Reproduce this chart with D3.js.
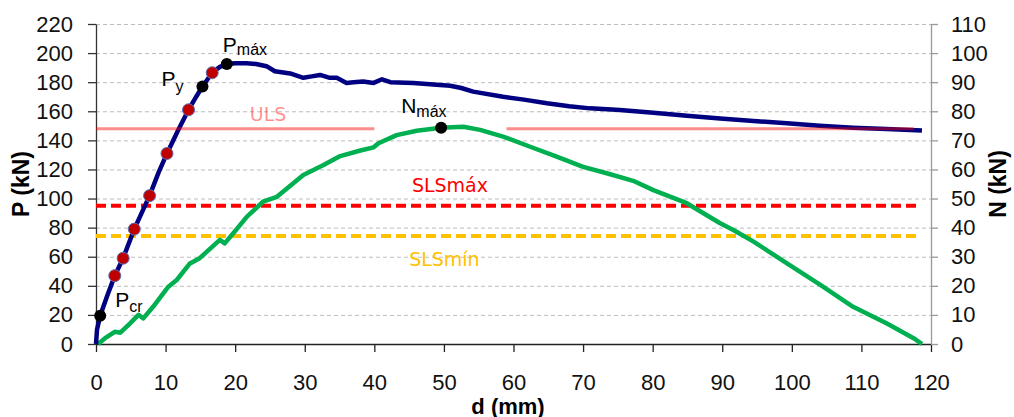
<!DOCTYPE html>
<html>
<head>
<meta charset="utf-8">
<script src="https://cdn.jsdelivr.net/npm/d3@7"></script>
<style>
  body { margin: 0; background: #fff; }
  svg { display: block; }
</style>
</head>
<body>
<script>
// load P (kN) vs displacement d (mm)
var pD   = [0, 0.15, 0.6, 1.6, 2.7, 3.9, 5.5, 7.7, 9.0, 10.2, 11.8, 13.3, 14.4, 15.3, 16.7, 17.8, 18.8, 20.0, 21.6, 23.0, 24.5, 25.7, 27.9, 29.8, 31.0, 32.2, 33.6, 34.6, 36.0, 37.0, 38.4, 39.9, 41.1, 42.3, 45.6, 48.0, 50.9, 52.5, 54.2, 58.5, 61.5, 64.8, 68.0, 71.0, 75.3, 80.1, 84.9, 89.7, 94.5, 99.3, 104.0, 108.8, 113.6, 118.7];
var pVal = [0, 10, 19.5, 33, 47, 59, 79, 102, 118, 131, 147, 161, 170, 177, 186.5, 190.5, 192.5, 193, 193, 192.5, 191, 187.5, 186, 183, 184, 185, 183, 183, 179.5, 180, 180.5, 179.5, 182, 180, 179.5, 178.5, 177.5, 176, 173.5, 170, 168, 165.5, 163.5, 162, 160.9, 159, 157, 155, 153.3, 151.7, 150.1, 148.7, 147.8, 146.8];

// axial force N (kN) vs d (mm), right axis
var nD   = [0.3, 1.3, 2.7, 3.5, 4.9, 6.1, 6.8, 8.2, 10.4, 11.6, 13.5, 14.9, 17.8, 18.5, 19.7, 21.7, 24.0, 26.0, 29.8, 32.7, 35.1, 38.0, 39.9, 40.6, 43.2, 46.1, 49.6, 52.8, 55.2, 58.5, 62.4, 66.2, 70.0, 73.4, 77.2, 80.1, 84.9, 89.7, 91.6, 94.5, 99.3, 104.1, 108.8, 113.6, 117.5, 118.7];
var nVal = [0, 2, 4.2, 3.9, 7.1, 10, 8.8, 12.8, 19.7, 22, 27.7, 29.5, 35.8, 34.6, 38, 43.8, 48.9, 50.6, 58.1, 61.5, 64.6, 66.5, 67.6, 69, 71.8, 73.3, 74.3, 74.7, 73.6, 71.3, 67.8, 64.4, 60.9, 58.7, 56.1, 52.9, 48.4, 41.5, 39.2, 35.2, 27.7, 20.3, 12.8, 7.1, 2, 0];

// red markers on the P curve
var redD = [2.7, 3.9, 5.5, 7.7, 10.2, 13.3, 16.7];
var redP = [47, 59, 79, 102, 131, 161, 186.5];

// black key points
var keyNames = ["cr", "y", "máx"];
var keyD = [0.6, 15.3, 18.8];
var keyP = [19.5, 177, 192.5];
var nMaxD = 49.6, nMaxN = 74.3;

// limit lines (P scale)
var ulsP = 148, ulsFrom = [0, 59], ulsTo = [40, 117.5];
var slsMaxP = 95, slsMinP = 74.3, slsTo = 118;

var xTicks = d3.range(0, 121, 10);
var pTicks = d3.range(0, 221, 20);
var nTicks = d3.range(0, 111, 10);

var w = 1014, h = 417;
var mLeft = 96, mRight = 931, mTop = 24, mBottom = 344;

var x = d3.scaleLinear().domain([0, 120]).range([mLeft, mRight]);
var yP = d3.scaleLinear().domain([0, 220]).range([mBottom, mTop]);
var yN = d3.scaleLinear().domain([0, 110]).range([mBottom, mTop]);

var svg = d3.select("body").append("svg")
  .attr("width", w)
  .attr("height", h);

// grid
svg.append("g").selectAll("line")
  .data(pTicks.slice(1))
  .enter().append("line")
  .attr("x1", mLeft).attr("x2", mRight)
  .attr("y1", function(d) { return yP(d) + 0.5; })
  .attr("y2", function(d) { return yP(d) + 0.5; })
  .attr("stroke", "#bdbdbd")
  .attr("stroke-dasharray", "4,3");

function styleAxis(g, col) {
  g.selectAll("path").attr("stroke", col).attr("stroke-width", 1.3);
  g.selectAll("line").attr("stroke", col).attr("stroke-width", 1.3);
  g.selectAll("text")
    .attr("font-family", "'Liberation Sans', Arial, sans-serif")
    .attr("font-size", "22px")
    .attr("fill", "#111");
}

var gx = svg.append("g").attr("transform", "translate(0," + mBottom + ")")
  .call(d3.axisBottom(x).tickValues(xTicks).tickSize(8).tickSizeOuter(0).tickPadding(22));
styleAxis(gx, "#222");

var gl = svg.append("g").attr("transform", "translate(" + mLeft + ",0)")
  .call(d3.axisLeft(yP).tickValues(pTicks).tickSize(8).tickSizeOuter(0).tickPadding(15));
styleAxis(gl, "#333");

var gr = svg.append("g").attr("transform", "translate(" + mRight + ",0)")
  .call(d3.axisRight(yN).tickValues(nTicks).tickSize(7).tickSizeOuter(0).tickPadding(13));
styleAxis(gr, "#999");

// axis titles
svg.append("text")
  .attr("x", 508).attr("y", 414)
  .attr("text-anchor", "middle")
  .attr("font-family", "'Liberation Sans', Arial, sans-serif")
  .attr("font-size", "22px").attr("font-weight", "bold")
  .text("d (mm)");
svg.append("text")
  .attr("transform", "translate(29," + (mTop + mBottom) / 2 + ") rotate(-90)")
  .attr("text-anchor", "middle")
  .attr("font-family", "'Liberation Sans', Arial, sans-serif")
  .attr("font-size", "23px").attr("font-weight", "bold")
  .text("P (kN)");
svg.append("text")
  .attr("transform", "translate(1006," + (mTop + mBottom) / 2 + ") rotate(-90)")
  .attr("text-anchor", "middle")
  .attr("font-family", "'Liberation Sans', Arial, sans-serif")
  .attr("font-size", "23px").attr("font-weight", "bold")
  .text("N (kN)");

// SLS dashed lines
svg.append("line")
  .attr("x1", x(0)).attr("x2", x(slsTo))
  .attr("y1", yP(slsMaxP)).attr("y2", yP(slsMaxP))
  .attr("stroke", "#ff0000").attr("stroke-width", 4)
  .attr("stroke-dasharray", "10,5");
svg.append("line")
  .attr("x1", x(0)).attr("x2", x(slsTo))
  .attr("y1", yP(slsMinP)).attr("y2", yP(slsMinP))
  .attr("stroke", "#ffc000").attr("stroke-width", 4)
  .attr("stroke-dasharray", "10,5");

var lineP = d3.line()
  .x(function(d, i) { return x(pD[i]); })
  .y(function(d) { return yP(d); });
var lineN = d3.line()
  .x(function(d, i) { return x(nD[i]); })
  .y(function(d) { return yN(d); });

svg.append("path").datum(nVal)
  .attr("d", lineN)
  .attr("fill", "none")
  .attr("stroke", "#00b050").attr("stroke-width", 4.5)
  .attr("stroke-linejoin", "round");

svg.append("path").datum(pVal)
  .attr("d", lineP)
  .attr("fill", "none")
  .attr("stroke", "#000080").attr("stroke-width", 4.5)
  .attr("stroke-linejoin", "round");

// ULS line, translucent red on top
svg.append("g").selectAll("line")
  .data(ulsFrom)
  .enter().append("line")
  .attr("x1", function(d) { return x(d); })
  .attr("x2", function(d, i) { return x(ulsTo[i]); })
  .attr("y1", yP(ulsP)).attr("y2", yP(ulsP))
  .attr("stroke", "#ff0000").attr("stroke-opacity", 0.45)
  .attr("stroke-width", 3);

// markers
svg.append("g").selectAll("circle")
  .data(redP)
  .enter().append("circle")
  .attr("cx", function(d, i) { return x(redD[i]); })
  .attr("cy", function(d) { return yP(d); })
  .attr("r", 6)
  .attr("fill", "#c00000")
  .attr("stroke", "#5a6fb0").attr("stroke-width", 1);

svg.append("g").selectAll("circle")
  .data(keyP)
  .enter().append("circle")
  .attr("cx", function(d, i) { return x(keyD[i]); })
  .attr("cy", function(d) { return yP(d); })
  .attr("r", 6)
  .attr("fill", "#000");

svg.append("circle")
  .attr("cx", x(nMaxD)).attr("cy", yN(nMaxN))
  .attr("r", 6).attr("fill", "#000");

// point labels (big letter + subscript)
function subLabel(px, py, main, sub, dy) {
  var t = svg.append("text")
    .attr("x", px).attr("y", py)
    .attr("font-family", "'Liberation Sans', Arial, sans-serif")
    .attr("font-size", "21px")
    .attr("fill", "#000");
  t.append("tspan").text(main);
  t.append("tspan").attr("font-size", "16px").attr("dy", dy).text(sub);
}
subLabel(x(keyD[0]) + 15, yP(keyP[0]) - 9, "P", keyNames[0], 5);
subLabel(x(keyD[1]) - 41, yP(keyP[1]) - 1, "P", keyNames[1], 6);
subLabel(x(keyD[2]) - 4, yP(keyP[2]) - 12, "P", keyNames[2], 3);
subLabel(x(nMaxD) - 40, yN(nMaxN) - 15, "N", "máx", 4);

// limit labels
function limLabel(dx, pv, txt, col, op) {
  svg.append("text")
    .attr("x", x(dx)).attr("y", yP(pv))
    .attr("font-family", "'DejaVu Sans', Verdana, sans-serif")
    .attr("font-size", "19px")
    .attr("fill", col).attr("fill-opacity", op)
    .text(txt);
}
limLabel(22.1, 153.5, "ULS", "#ff0000", 0.45);
limLabel(45.4, 104.5, "SLSmáx", "#ff0000", 1);
limLabel(45.0, 53.5, "SLSmín", "#ffc000", 1);
</script>
</body>
</html>
